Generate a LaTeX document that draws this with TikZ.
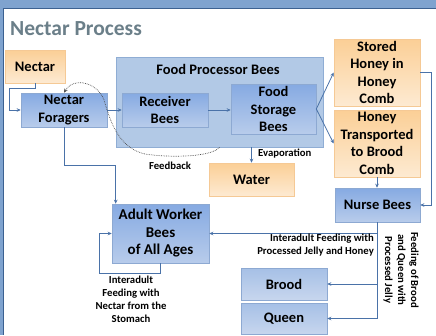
\documentclass[tikz,border=0pt]{standalone}
\usepackage{fontspec}
\setmainfont{Carlito}
\usetikzlibrary{arrows.meta,calc}

\definecolor{linec}{HTML}{4A72A8}
\definecolor{bluetop}{HTML}{86AAE2}
\definecolor{bluebot}{HTML}{B8CCEB}
\definecolor{blueedge}{HTML}{8DA9D2}
\definecolor{orgtop}{HTML}{FBCF96}
\definecolor{orgbot}{HTML}{FDEAD2}
\definecolor{orgedge}{HTML}{F5C995}
\definecolor{contfill}{HTML}{B2C9E6}
\definecolor{contedge}{HTML}{8FADD4}
\definecolor{lighttop}{HTML}{A6C0E6}
\definecolor{lightbot}{HTML}{C7D6EE}
\definecolor{titlec}{HTML}{6B7F89}
\definecolor{barfill}{HTML}{7FA3CF}
\definecolor{bardark}{HTML}{3C6191}

\tikzset{
  box/.style={draw=blueedge, line width=0.6pt, inner sep=0pt, align=center,
    font=\bfseries\fontsize{14.5}{17.5}\selectfont,
    top color=bluetop, bottom color=bluebot},
  orangebox/.style={box, draw=orgedge, top color=orgtop, bottom color=orgbot},
  lightbox/.style={box, top color=lighttop, bottom color=lightbot},
  container/.style={draw=contedge, fill=contfill, line width=0.6pt, inner sep=0pt},
  arr/.style={draw=linec, line width=0.8pt, -{Stealth[length=4pt,width=3.6pt]}},
  lbl/.style={font=\bfseries\fontsize{10.7}{13}\selectfont, inner sep=0pt},
  feedback/.style={draw=black!70, line width=0.7pt, densely dotted,
    -{Stealth[length=4pt,width=3.6pt]}}
}

\begin{document}
\begin{tikzpicture}[x=1pt,y=-1pt]
  \useasboundingbox (0,0) rectangle (436,335);
  \fill[white] (0,0) rectangle (436,335);

  % slide frame
  \fill[barfill] (0,0) rectangle (436,8);
  \draw[bardark, line width=1.2pt] (0,8.6) -- (436,8.6);
  \fill[barfill] (0,8) rectangle (3,335);
  \draw[bardark, line width=1pt] (3.5,8.6) -- (3.5,335);

  % title
  \node[anchor=base west, inner sep=0pt, text=titlec,
        font=\bfseries\fontsize{21.5}{24}\selectfont] (title) at (10,35) {Nectar Process};

  % food processor group
  \node[container, minimum width=207pt, minimum height=90pt] (cont) at (219.5,102) {};
  \node[anchor=base, inner sep=0pt, font=\bfseries\fontsize{14.5}{17.5}\selectfont]
       (contlbl) at (218,74) {Food Processor Bees};

  % boxes
  \node[orangebox, minimum width=60pt, minimum height=33pt] (nectar) at (35,66.5) {Nectar};
  \node[box, minimum width=86pt, minimum height=34pt] (forag) at (64,110) {Nectar\\Foragers};
  \node[box, minimum width=86pt, minimum height=34pt] (recv) at (165,110) {Receiver\\Bees};
  \node[box, minimum width=85pt, minimum height=50pt] (store) at (273.5,109) {Food\\Storage\\Bees};
  \node[orangebox, minimum width=86pt, minimum height=67pt] (honey) at (377,72.5)
       {Stored\\Honey in\\Honey\\Comb};
  \node[orangebox, minimum width=86pt, minimum height=67pt] (trans) at (377,143.5)
       {Honey\\Transported\\to Brood\\Comb};
  \node[box, minimum width=85pt, minimum height=34pt] (nurse) at (377.5,205) {Nurse Bees};
  \node[orangebox, minimum width=85pt, minimum height=33pt] (water) at (251.5,179.5) {Water};
  \node[box, minimum width=97pt, minimum height=59pt,
        font=\bfseries\fontsize{15}{17.5}\selectfont] (adult) at (160.5,233.5)
       {Adult Worker\\Bees\\of All Ages};
  \node[lightbox, minimum width=86pt, minimum height=32pt] (brood) at (284,284) {Brood};
  \node[lightbox, minimum width=86pt, minimum height=31pt] (queen) at (284,318.5) {Queen};

  % connectors
  \draw[arr] (nectar.south) -- ++(0,5) -| ($(forag.west)+(-11,0)$) -- (forag.west);
  \draw[arr] (forag.east) -- (recv.west);
  \draw[arr] (recv.east) -- (store.west |- recv.east);
  \draw[arr] (store.east) -- (honey.west);
  \draw[arr] (store.east) -- (trans.west);
  \draw[arr] (honey.east) -- ++(11,0) |- (nurse.east);
  \draw[arr] (trans.south) -- (nurse.north -| trans.south);
  \draw[arr] (water.north |- cont.south) -- (water.north);
  \draw[arr] (forag.south) -- ++(0,38) -| ([xshift=4pt]adult.north west);
  \draw[arr] (adult.south) -- ++(0,10) -| ($(adult.west)+(-12,0)$) -- (adult.west);
  \draw[arr] (nurse.south) |- (adult.east);
  \draw[arr] (nurse.south) |- (brood.east);
  \draw[arr] (nurse.south) |- (queen.east);

  % feedback loop
  \draw[feedback] (cont.south) .. controls (212,157) and (170,158) .. (145,154)
     .. controls (118,148) and (110,120) .. (104,100)
     .. controls (98,83) and (74,76) .. (forag.north);

  % connector labels
  \node[lbl] (fblbl) at (170,166) {Feedback};
  \node[lbl, anchor=west] (evap) at (258,154) {Evaporation};
  \node[lbl, anchor=east, align=right] (jellylbl) at (374,245.5)
       {Interadult Feeding with\\Processed Jelly and Honey};
  \node[lbl, align=center] (stomlbl) at (131,299)
       {Interadult\\Feeding with\\Nectar from the\\Stomach};
  \node[lbl, align=center, rotate=-90] (broodlbl) at (401,270)
       {Feeding of Brood\\and Queen with\\Processed Jelly};
\end{tikzpicture}
\end{document}
